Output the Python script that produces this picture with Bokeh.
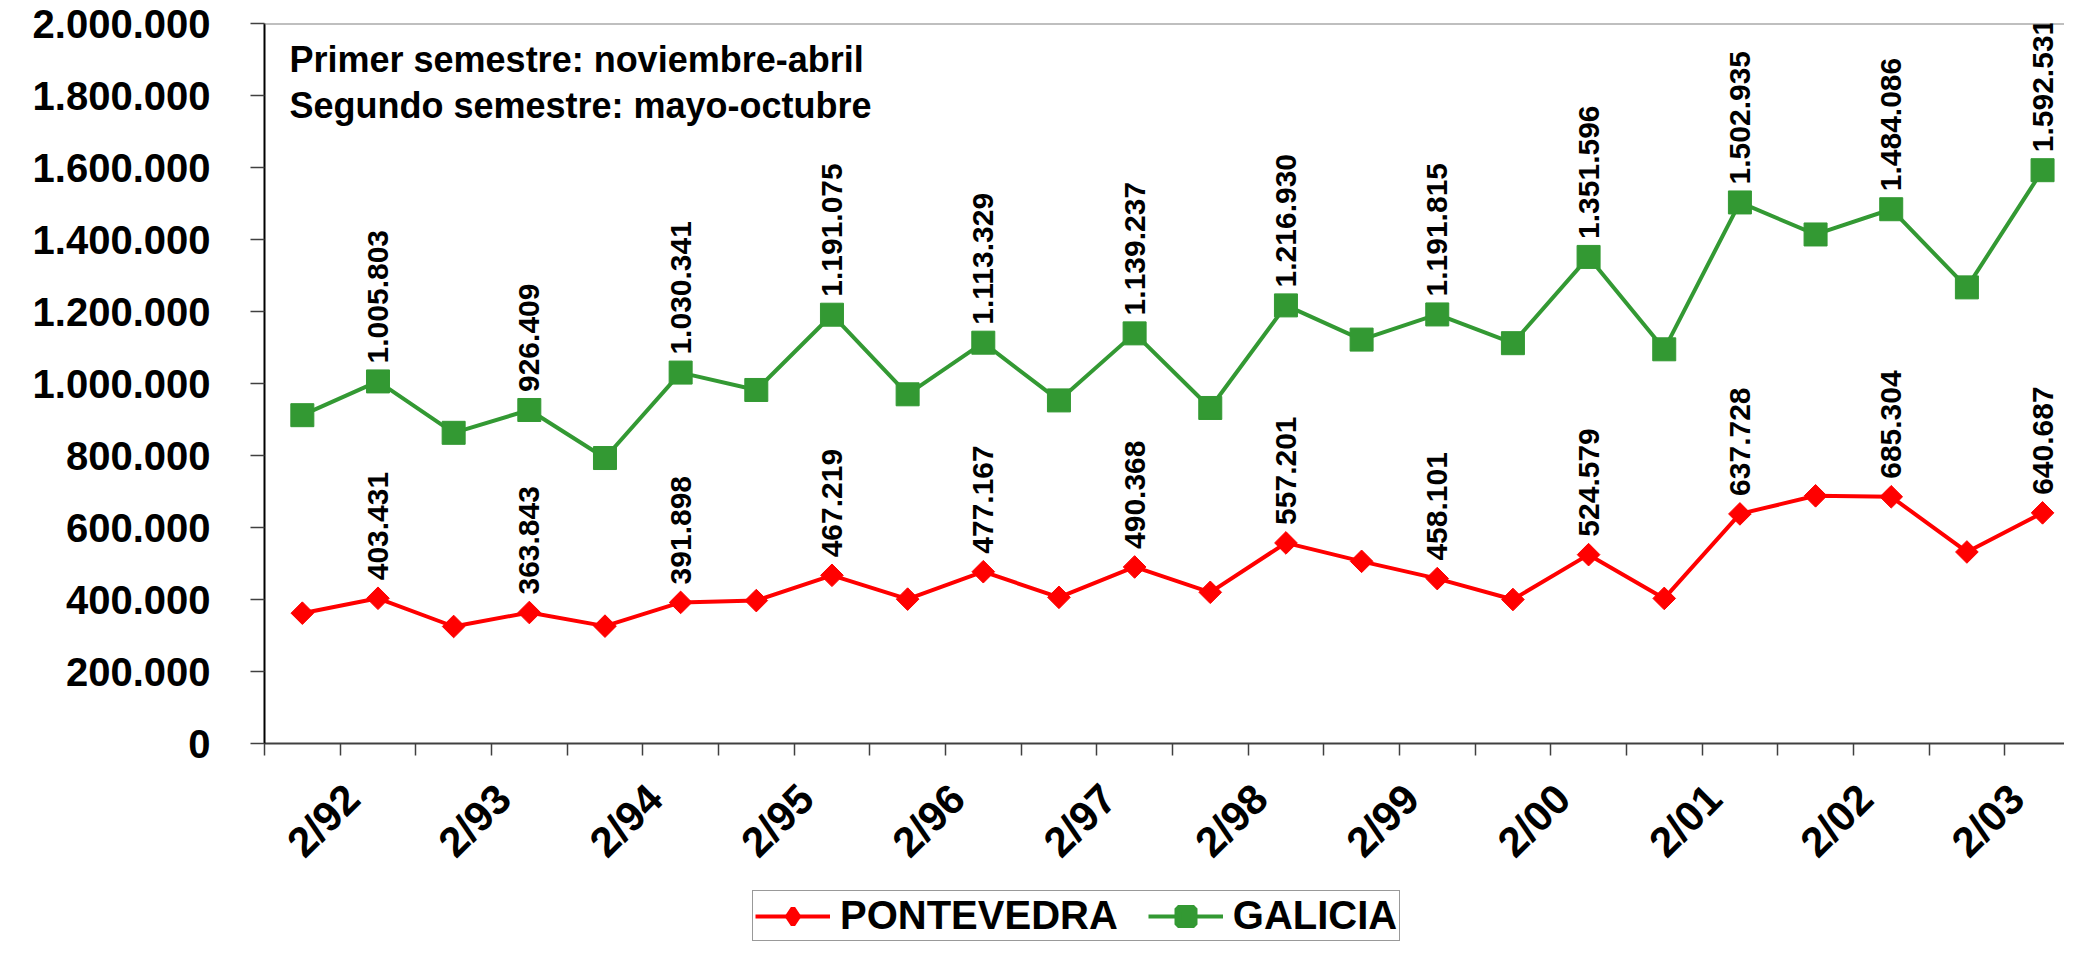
import numpy as np
from bokeh.plotting import figure
from bokeh.layouts import column
from bokeh.models import (Range1d, FixedTicker, ColumnDataSource, LabelSet, Label,
                          Legend, LegendItem, Span)
from bokeh.core.properties import value
from bokeh.embed import file_html
from bokeh.resources import INLINE

# ---- data ----
semesters = ["1/92", "2/92", "1/93", "2/93", "1/94", "2/94", "1/95", "2/95",
             "1/96", "2/96", "1/97", "2/97", "1/98", "2/98", "1/99", "2/99",
             "1/00", "2/00", "1/01", "2/01", "1/02", "2/02", "1/03", "2/03"]
pontevedra = [362000, 403431, 325000, 363843, 326000, 391898, 397000, 467219,
              401000, 477167, 406000, 490368, 420000, 557201, 506000, 458101,
              400000, 524579, 403000, 637728, 688000, 685304, 532000, 640687]
galicia = [912000, 1005803, 863000, 926409, 793000, 1030341, 982000, 1191075,
           970000, 1113329, 953000, 1139237, 932000, 1216930, 1122000, 1191815,
           1112000, 1351596, 1095000, 1502935, 1414000, 1484086, 1267000, 1592531]
x_tick_labels = ["2/92", "2/93", "2/94", "2/95", "2/96", "2/97",
                 "2/98", "2/99", "2/00", "2/01", "2/02", "2/03"]
y_ticks = [0, 200000, 400000, 600000, 800000, 1000000, 1200000, 1400000,
           1600000, 1800000, 2000000]
y_tick_labels = ["0", "200.000", "400.000", "600.000", "800.000", "1.000.000",
                 "1.200.000", "1.400.000", "1.600.000", "1.800.000", "2.000.000"]
note_lines = ["Primer semestre: noviembre-abril", "Segundo semestre: mayo-octubre"]
series_names = ["PONTEVEDRA", "GALICIA"]


def fmt(v):
    return f"{v:,}".replace(",", ".")


FONT = "Liberation Sans"
RED = "#FF0000"
GREEN = "#339933"
W = 2064
PH = 889
LH = 52
n = len(semesters)
xs = [i + 0.5 for i in range(n)]

# the last category runs slightly past the right edge, as in the original
p = figure(width=W, height=PH, x_range=Range1d(0, n - 0.21), y_range=Range1d(0, 2000000),
           output_backend="svg", toolbar_location=None,
           min_border_left=264, min_border_right=0, min_border_top=23,
           min_border_bottom=PH - 23 - 720)
p.outline_line_color = None
p.xgrid.visible = False
p.ygrid.visible = False
p.background_fill_color = "white"

# x axis: labels every second semester, tick marks at every category boundary
xa = p.xaxis[0]
major_x = [2 * k + 1.16 for k in range(len(x_tick_labels))]
xa.ticker = FixedTicker(ticks=major_x, minor_ticks=list(range(n + 1)))
xa.major_label_overrides = {t: lab for t, lab in zip(major_x, x_tick_labels)}
xa.major_label_orientation = np.pi / 4
xa.major_tick_line_color = None
xa.major_tick_out = 12
xa.major_tick_in = 0
xa.minor_tick_out = 12
xa.minor_tick_in = 0
xa.axis_line_color = "#404040"
xa.axis_line_width = 2
xa.minor_tick_line_color = "#404040"
xa.minor_tick_line_width = 1.5
xa.major_label_text_font = FONT
xa.major_label_text_font_size = "42px"
xa.major_label_text_font_style = "bold"
xa.major_label_text_color = "black"
xa.major_label_standoff = 36

# y axis
ya = p.yaxis[0]
ya.ticker = FixedTicker(ticks=y_ticks)
ya.major_label_overrides = {t: lab for t, lab in zip(y_ticks, y_tick_labels)}
ya.minor_tick_line_color = None
ya.major_tick_out = 14
ya.major_tick_in = 0
ya.axis_line_color = "black"
ya.axis_line_width = 2
ya.major_tick_line_color = "#404040"
ya.major_tick_line_width = 1.5
ya.major_label_text_font = FONT
ya.major_label_text_font_size = "40px"
ya.major_label_text_font_style = "bold"
ya.major_label_text_color = "black"
ya.major_label_standoff = 40

# top border line
p.add_layout(Span(location=2000000, dimension="width", line_color="#808080", line_width=2))

r_g = p.line(xs, galicia, line_color=GREEN, line_width=4)
m_g = p.scatter(xs, galicia, marker="square", size=23, fill_color=GREEN, line_color=GREEN)
r_p = p.line(xs, pontevedra, line_color=RED, line_width=4)
m_p = p.scatter(xs, pontevedra, marker="square", angle=np.pi / 4, size=16,
                fill_color=RED, line_color=RED)

# data labels on second semesters
for series in (pontevedra, galicia):
    idx = [i for i in range(n) if i % 2 == 1]
    src = ColumnDataSource(dict(x=[xs[i] for i in idx], y=[series[i] for i in idx],
                                t=[fmt(series[i]) for i in idx]))
    p.add_layout(LabelSet(x="x", y="y", text="t", source=src, angle=np.pi / 2,
                          text_align="left", text_baseline="middle", y_offset=18,
                          text_font=value(FONT), text_font_size="30px",
                          text_font_style="bold", text_color="black"))

# note text
note_y = [1899000, 1771000]
for txt, yy in zip(note_lines, note_y):
    p.add_layout(Label(x=0.33, y=yy, text=txt, text_font=FONT, text_font_size="36px",
                       text_font_style="bold", text_color="black",
                       text_baseline="alphabetic", text_align="left"))

# ---- legend strip below the chart ----
q = figure(width=W, height=LH, x_range=Range1d(0, n), y_range=Range1d(0, 1),
           output_backend="svg", toolbar_location=None, min_border=0)
q.axis.visible = False
q.grid.visible = False
q.outline_line_color = None
# legend proxies: same data, lying outside this strip's visible range
lp = q.line(xs, pontevedra, line_color=RED, line_width=4)
mp = q.scatter(xs, pontevedra, marker="diamond", size=16,
               fill_color=RED, line_color=RED, line_width=5)
lg = q.line(xs, galicia, line_color=GREEN, line_width=4)
mg = q.scatter(xs, galicia, marker="square", size=23, fill_color=GREEN,
               line_color=GREEN, line_width=7)

legend = Legend(items=[LegendItem(label=series_names[0], renderers=[lp, mp]),
                       LegendItem(label=series_names[1], renderers=[lg, mg])],
                orientation="horizontal", location=(488, 0),
                glyph_width=75, glyph_height=40, label_standoff=10, spacing=30,
                padding=2, margin=0,
                label_text_font=FONT, label_text_font_size="40px",
                label_text_font_style="bold", label_text_color="black",
                border_line_color="#333333", border_line_width=1.5,
                background_fill_color="white", background_fill_alpha=1.0)
q.add_layout(legend)

layout = column(p, q, spacing=0)
open("out.html", "w").write(file_html(layout, INLINE))
